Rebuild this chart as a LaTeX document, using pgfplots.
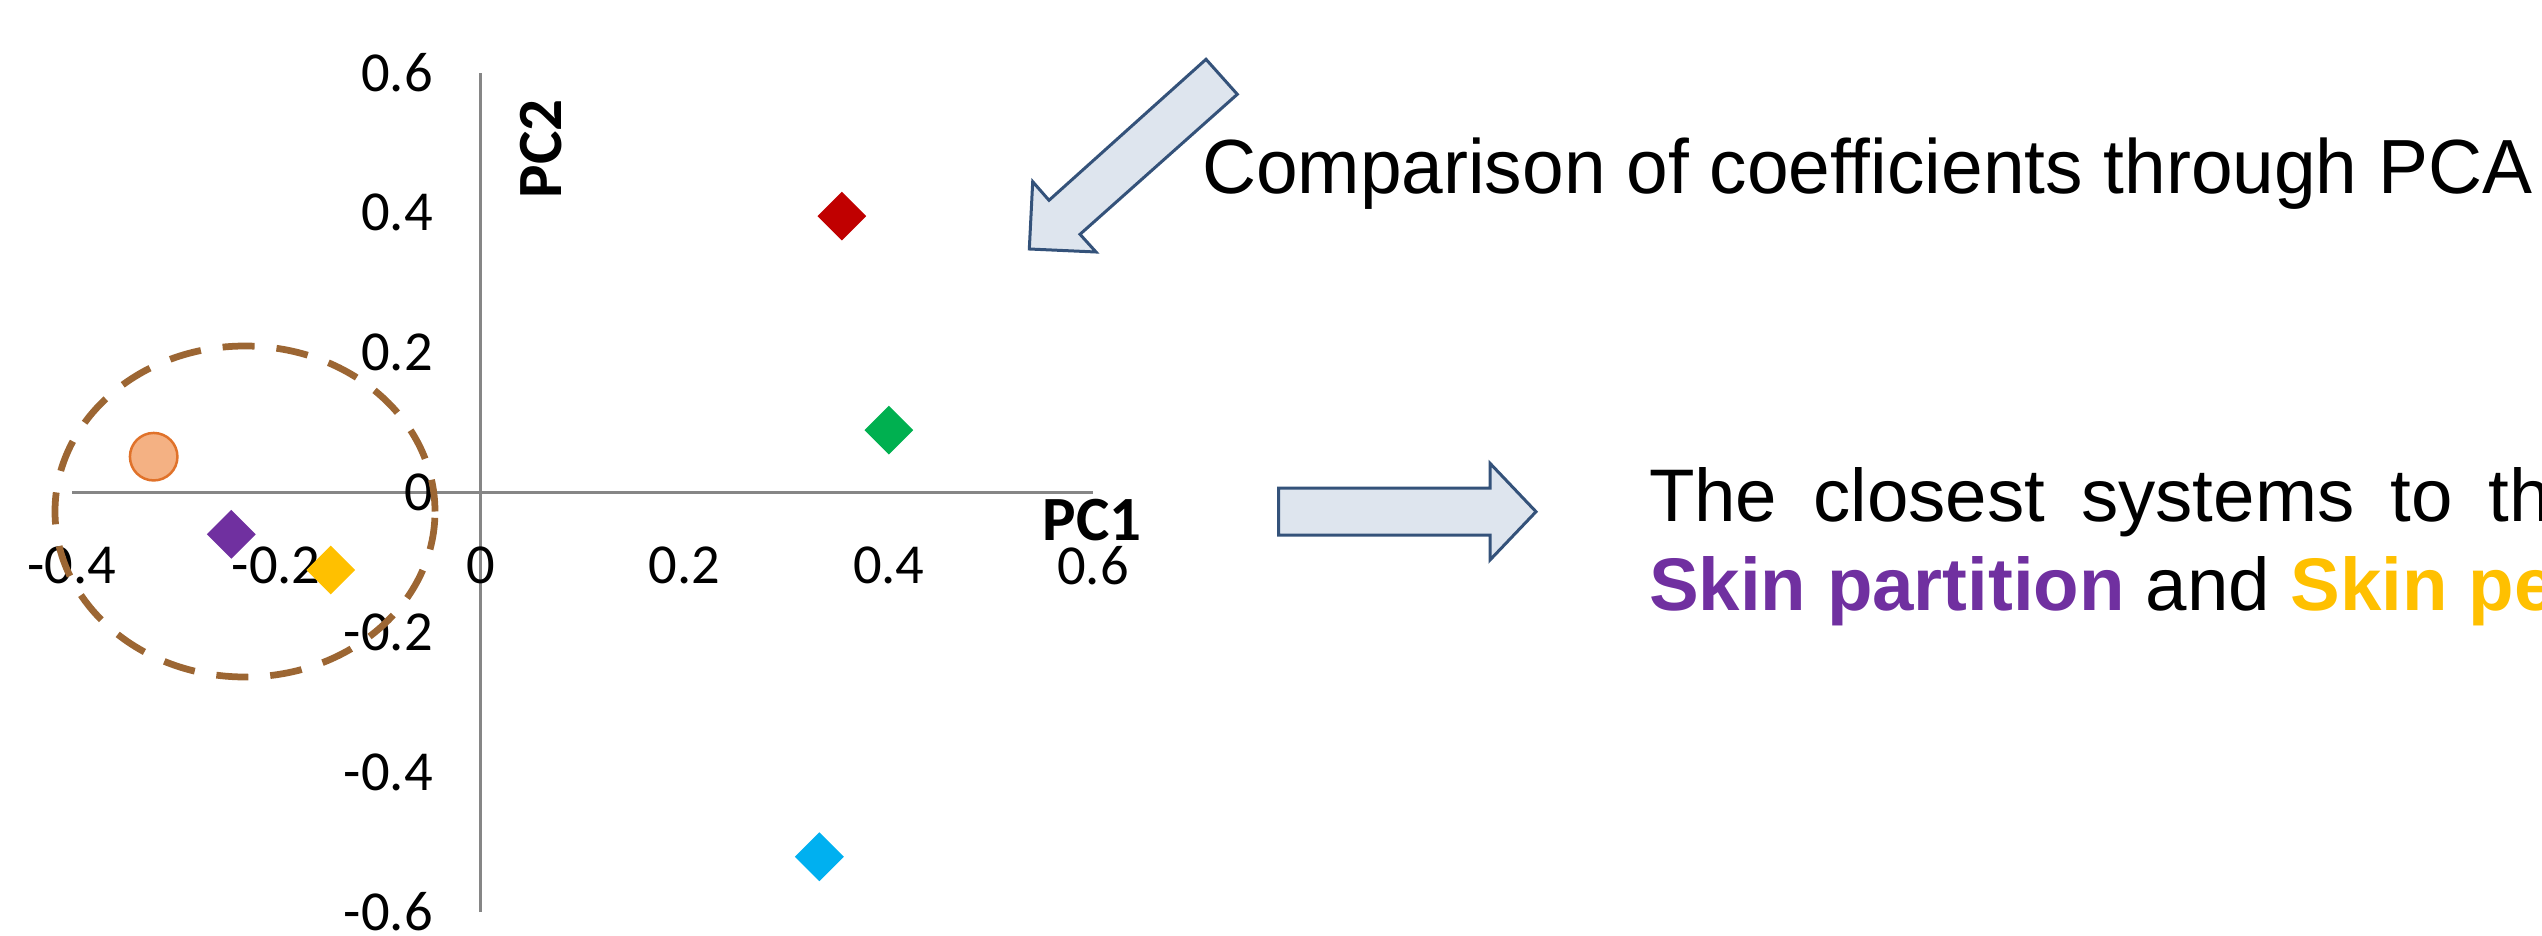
\documentclass[border=0pt]{standalone}
\usepackage{pgfplots}
\pgfplotsset{compat=1.18}
\usepackage{fontspec}
\setmainfont{Liberation Sans}
\newfontfamily\calibri{Carlito}
\newfontfamily\arialc[FakeStretch=0.975]{Liberation Sans}
\newfontfamily\arial{Liberation Sans}
\definecolor{axisgrey}{HTML}{868686}
\definecolor{cRed}{HTML}{C00000}
\definecolor{cGreen}{HTML}{00B050}
\definecolor{cCyan}{HTML}{00B0F0}
\definecolor{cPurple}{HTML}{7030A0}
\definecolor{cGold}{HTML}{FFC000}
\definecolor{cPeach}{HTML}{F4B183}
\definecolor{cOrange}{HTML}{E0722A}
\definecolor{cBrown}{HTML}{9C6633}
\definecolor{arrFill}{HTML}{DEE5EE}
\definecolor{arrLine}{HTML}{34527A}
\begin{document}
\begin{tikzpicture}[x=0.2pt,y=0.2pt]
\useasboundingbox (0,0) rectangle (2542,935);
\clip (0,0) rectangle (2542,935);
\begin{axis}[
  at={(14.4pt,4.6pt)}, anchor=south west,
  scale only axis, width=204.2pt, height=167.86pt,
  xmin=-0.4, xmax=0.6, ymin=-0.6, ymax=0.6,
  axis lines=middle,
  axis line style={-, draw=axisgrey, line width=0.5pt},
  major tick length=0pt,
  xtick={-0.4,-0.2,0,0.2,0.4,0.6},
  xticklabels={-0.4,-0.2,0,0.2,0.4,0.6},
  ytick={-0.6,-0.4,-0.2,0,0.2,0.4,0.6},
  yticklabels={-0.6,-0.4,-0.2,0,0.2,0.4,0.6},
  tick label style={font=\calibri\fontsize{11.3}{13}\selectfont, text=black},
  xticklabel style={anchor=north, yshift=-7.3pt},
  yticklabel style={anchor=east, xshift=-6pt},
  clip=false,
]
\addplot[only marks, mark=*, mark size=4.75pt, mark options={fill=cPeach, draw=cOrange, line width=0.5pt}] coordinates {(-0.320,0.051)};
\addplot[only marks, mark=square*, mark size=3.25pt, mark options={rotate=45, fill=cRed, draw=cRed, line width=0.4pt}] coordinates {(0.354,0.395)};
\addplot[only marks, mark=square*, mark size=3.25pt, mark options={rotate=45, fill=cGreen, draw=cGreen, line width=0.4pt}] coordinates {(0.400,0.089)};
\addplot[only marks, mark=square*, mark size=3.25pt, mark options={rotate=45, fill=cCyan, draw=cCyan, line width=0.4pt}] coordinates {(0.332,-0.521)};
\addplot[only marks, mark=square*, mark size=3.25pt, mark options={rotate=45, fill=cPurple, draw=cPurple, line width=0.4pt}] coordinates {(-0.244,-0.060)};
\addplot[only marks, mark=square*, mark size=3.25pt, mark options={rotate=45, fill=cGold, draw=cGold, line width=0.4pt}] coordinates {(-0.1465,-0.111)};
% the two "0" tick labels that axis lines=middle leaves out
\node[font=\calibri\fontsize{11.3}{13}\selectfont, anchor=north, yshift=-7.3pt] at (axis cs:0,0) {0};
\node[font=\calibri\fontsize{11.3}{13}\selectfont, anchor=east, xshift=-6pt] at (axis cs:0,0) {0};
\end{axis}
% axis titles
\node[font=\calibri\bfseries\fontsize{12.6}{14}\selectfont, rotate=90, inner sep=0pt] at (541,786) {PC2};
\node[font=\calibri\bfseries\fontsize{12.6}{14}\selectfont, inner sep=0pt] at (1092,415.3) {PC1};
% dashed ellipse
\draw[cBrown, line width=1.35pt, dash pattern=on 6.4pt off 4.4pt] (245,423.5) ellipse [x radius=38pt, y radius=33.1pt];
% diagonal block arrow
\draw[arrLine, fill=arrFill, line width=0.6pt, line join=miter]
  (1206,875.7) -- (1237.3,840.7) -- (1080,700.7) -- (1096,683) -- (1029.3,686) -- (1032.7,753.3) -- (1049,734.7) -- cycle;
% right block arrow
\draw[arrLine, fill=arrFill, line width=0.6pt, line join=miter]
  (1278.7,447) -- (1490,447) -- (1490,471.7) -- (1536,423.3) -- (1490,375) -- (1490,400) -- (1278.7,400) -- cycle;
% texts
\node[anchor=base west, inner sep=0pt, font=\arialc\fontsize{15.36}{18}\selectfont] at (1201,741.7) {Comparison of coefficients through PCA};
\node[anchor=base west, inner sep=0pt, font=\arial\fontsize{14.9}{18}\selectfont] at (1648,413.3) {\spaceskip=7.2pt The closest systems to the skin are};
\node[anchor=base west, inner sep=0pt, font=\arial\bfseries\fontsize{14.9}{18}\selectfont] at (1648,324.3) {\textcolor{cPurple}{Skin partition} \textcolor{black}{\mdseries and} \textcolor{cGold}{Skin permeation}};
\end{tikzpicture}
\end{document}
